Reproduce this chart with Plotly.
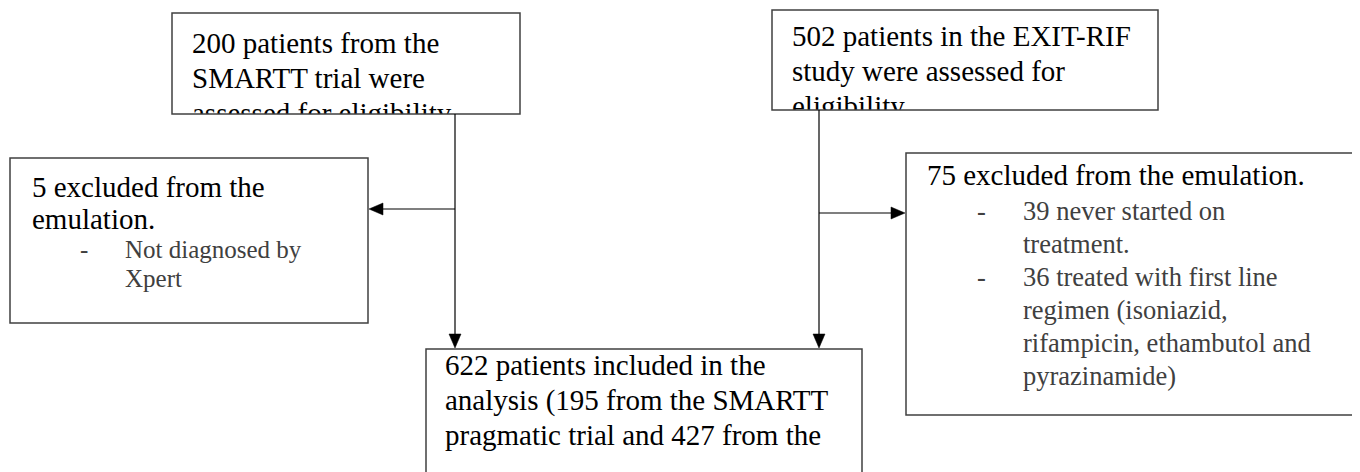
import plotly.graph_objects as go

# ---------------- content ----------------
smartt_lines = ["200 patients from the", "SMARTT trial were", "assessed for eligibility"]
exitrif_lines = ["502 patients in the EXIT-RIF", "study were assessed for", "eligibility"]
excl5_main = ["5 excluded from the", "emulation."]
excl5_bullets = [["Not diagnosed by", "Xpert"]]
excl75_main = ["75 excluded from the emulation."]
excl75_bullets = [["39 never started on", "treatment."],
                  ["36 treated with first line", "regimen (isoniazid,",
                   "rifampicin, ethambutol and", "pyrazinamide)"]]
final_lines = ["622 patients included in the", "analysis (195 from the SMARTT",
               "pragmatic trial and 427 from the"]

# ---------------- layout (page pixel space) ----------------
PAGE_W, PAGE_H = 1360, 472
BODY_MARGIN = 8
FONT = "Liberation Serif, Times New Roman, serif"
MAIN_SIZE = 29
MAIN_COLOR = "#000000"
SUB_COLOR = "#404040"
BORDER = "#404040"

boxes = {
    "smartt": (172, 13, 520, 114),
    "exit": (772, 10, 1158, 110),
    "ex5": (10, 158, 368, 323),
    "ex75": (906, 153, 1357, 415),
    "final": (426, 349, 862, 490),
}

fig = go.Figure()


def add_text(x, baselines, lines, size, color):
    ys = [b - 0.25 * size for b in baselines]
    fig.add_trace(go.Scatter(
        x=[x] * len(lines), y=ys, text=lines, mode="text",
        textposition="middle right",
        textfont=dict(family=FONT, size=size, color=color),
        hoverinfo="skip", showlegend=False, cliponaxis=False))


# box 1
add_text(192, [53 + 35 * i for i in range(len(smartt_lines))], smartt_lines, MAIN_SIZE, MAIN_COLOR)
# box 2
add_text(792, [46 + 35 * i for i in range(len(exitrif_lines))], exitrif_lines, MAIN_SIZE, MAIN_COLOR)
# box 3
add_text(32, [197 + 32 * i for i in range(len(excl5_main))], excl5_main, MAIN_SIZE, MAIN_COLOR)
b = 258
for bullet in excl5_bullets:
    add_text(80, [b], ["-"], 25, SUB_COLOR)
    add_text(125, [b + 29 * i for i in range(len(bullet))], bullet, 25, SUB_COLOR)
    b += 29 * len(bullet)
# box 4
add_text(927, [185], excl75_main, MAIN_SIZE, MAIN_COLOR)
b = 220
for bullet in excl75_bullets:
    add_text(977, [b], ["-"], 26.5, SUB_COLOR)
    add_text(1023, [b + 33 * i for i in range(len(bullet))], bullet, 26.5, SUB_COLOR)
    b += 33 * len(bullet)
# box 5
add_text(445, [375 + 35 * i for i in range(len(final_lines))], final_lines, MAIN_SIZE, MAIN_COLOR)

shapes = []
# white covers clipping overflow text of the two top boxes
for key in ("smartt", "exit"):
    x0, y0, x1, y1 = boxes[key]
    shapes.append(dict(type="rect", xref="x", yref="y", x0=x0 - 2, x1=x1 + 2, y0=y1, y1=y1 + 40,
                       fillcolor="white", line=dict(width=0), layer="above"))
# box borders
for key, (x0, y0, x1, y1) in boxes.items():
    shapes.append(dict(type="rect", xref="x", yref="y", x0=x0, x1=x1, y0=y0, y1=y1,
                       fillcolor="rgba(0,0,0,0)", line=dict(color=BORDER, width=1.5), layer="above"))


def line(x0, y0, x1, y1):
    shapes.append(dict(type="line", xref="x", yref="y", x0=x0, y0=y0, x1=x1, y1=y1,
                       line=dict(color="black", width=1.2), layer="above"))


def arrow_head(xt, yt, direction, L=14, hw=6):
    if direction == "down":
        p = f"M{xt},{yt} L{xt-hw},{yt-L} L{xt+hw},{yt-L} Z"
    elif direction == "left":
        p = f"M{xt},{yt} L{xt+L},{yt-hw} L{xt+L},{yt+hw} Z"
    else:
        p = f"M{xt},{yt} L{xt-L},{yt-hw} L{xt-L},{yt+hw} Z"
    shapes.append(dict(type="path", xref="x", yref="y", path=p, fillcolor="black",
                       line=dict(color="black", width=0.5), layer="above"))


# left branch
xl = 455
line(xl, boxes["smartt"][3], xl, 336)
arrow_head(xl, 348, "down")
line(xl, 209, 380, 209)
arrow_head(boxes["ex5"][2] + 1, 209, "left")
# right branch
xr = 819
line(xr, boxes["exit"][3], xr, 336)
arrow_head(xr, 348, "down")
line(xr, 213, 894, 213)
arrow_head(boxes["ex75"][0] - 1, 213, "right")

# figure sits at the page's default 8px body margin; axes map to page pixels
fig.update_layout(
    width=PAGE_W - BODY_MARGIN, height=PAGE_H - BODY_MARGIN,
    margin=dict(l=0, r=0, t=0, b=0),
    paper_bgcolor="white", plot_bgcolor="white",
    xaxis=dict(range=[BODY_MARGIN, PAGE_W], visible=False, fixedrange=True),
    yaxis=dict(range=[PAGE_H, BODY_MARGIN], visible=False, fixedrange=True),
    shapes=shapes, showlegend=False,
)

fig.write_html("out.html")
